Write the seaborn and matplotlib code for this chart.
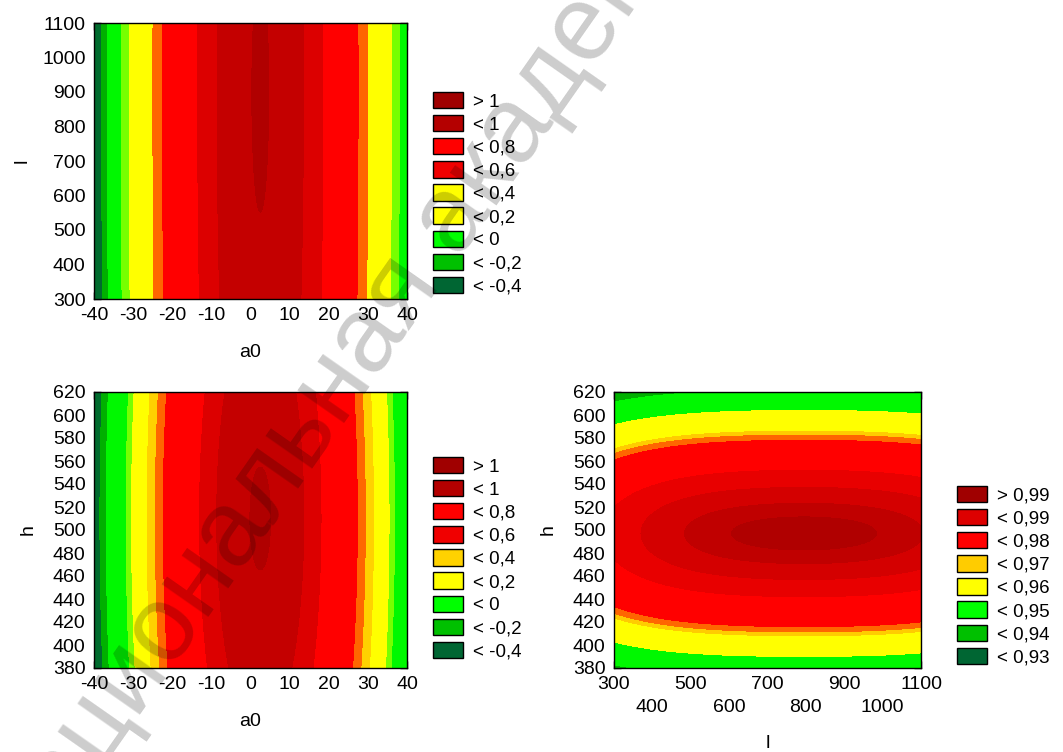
import numpy as np
import matplotlib
matplotlib.use("Agg")
import matplotlib.pyplot as plt
import seaborn as sns
from matplotlib.patches import Patch

sns.set_theme(style="white")
plt.rcParams["font.family"] = ["Liberation Sans", "DejaVu Sans"]
plt.rcParams["axes.unicode_minus"] = False

# ---------------- data ----------------
a0_range = [-40, 40]
l_range = [300, 1100]
h_range = [380, 620]

a0_ticks = [-40, -30, -20, -10, 0, 10, 20, 30, 40]
l_ticks_row1 = [300, 500, 700, 900, 1100]
l_ticks_row2 = [400, 600, 800, 1000]
h_ticks = [380, 400, 420, 440, 460, 480, 500, 520, 540, 560, 580, 600, 620]

# response surface 1: z(a0, l) = c0 + ka*(a0-a0c)^2 + kl*(l-lc)^2
surf1_center = [2.5, 900]
surf1_coef = [1.004, -8.55e-4, -3.3e-8]
# response surface 2: z(a0, h) = c0 + ka*(a0-a0c)^2 + kh*(h-hc)^2
surf2_center = [2.5, 510]
surf2_coef = [1.006, -8.55e-4, -3.0e-6]
# response surface 3: z(l, h) = c0 - a2*dl^2 - a4*dl^4 - b2*dh^2
surf3_center = [795, 497]
surf3_coef = [1.0, 2.19e-8, 9.38e-14, 4.37e-6]

# filled contour bands
fill1_levels = [-0.4, -0.3, -0.075, 0.045, 0.36, 0.47, 0.785, 0.9, 1.0]
fill1_colors = ["#006B2E", "#00B000", "#00F800", "#77FF00", "#FFFF00", "#FF6600",
                "#FF0000", "#DC0000", "#C40000", "#B00000"]
fill2_levels = [-0.43, -0.32, 0.0, 0.08, 0.29, 0.39, 0.48, 0.8, 0.9, 1.0]
fill2_colors = ["#006B2E", "#00B000", "#00F800", "#77FF00", "#FFFF00", "#FFD200",
                "#FF6600", "#FF0000", "#DC0000", "#C40000", "#B00000"]
fill3_levels = [0.925, 0.932, 0.95, 0.9654, 0.968, 0.9713, 0.9868, 0.993, 0.997, 0.9991]
fill3_colors = ["#006B2E", "#00B000", "#00F800", "#FFFF00", "#FFCC00", "#FF6600",
                "#FF0000", "#E80000", "#D40000", "#C00000", "#B00000"]

# legends
leg12_labels = ["> 1", "< 1", "< 0,8", "< 0,6", "< 0,4", "< 0,2", "< 0", "< -0,2", "< -0,4"]
leg1_colors = ["#A00000", "#B40000", "#FF0000", "#F00000", "#FFFF00", "#FFFF00",
               "#00FF00", "#00C000", "#006633"]
leg2_colors = ["#A00000", "#B40000", "#FF0000", "#F00000", "#FFD200", "#FFFF00",
               "#00FF00", "#00C000", "#006633"]
leg3_labels = ["> 0,99", "< 0,99", "< 0,98", "< 0,97", "< 0,96", "< 0,95", "< 0,94", "< 0,93"]
leg3_colors = ["#A00000", "#DD0000", "#FF0000", "#FFCC00", "#FFFF00", "#00FF00",
               "#00C000", "#006633"]

watermark = "Национальная академия наук"

# ---------------- surfaces ----------------
n = 500
a0g = np.linspace(a0_range[0], a0_range[1], n)
lg = np.linspace(l_range[0], l_range[1], n)
hg = np.linspace(h_range[0], h_range[1], n)

A1, L1 = np.meshgrid(a0g, lg)
Z1 = surf1_coef[0] + surf1_coef[1] * (A1 - surf1_center[0]) ** 2 + surf1_coef[2] * (L1 - surf1_center[1]) ** 2
A2, H2 = np.meshgrid(a0g, hg)
Z2 = surf2_coef[0] + surf2_coef[1] * (A2 - surf2_center[0]) ** 2 + surf2_coef[2] * (H2 - surf2_center[1]) ** 2
L3, H3 = np.meshgrid(lg, hg)
dl = L3 - surf3_center[0]
dh = H3 - surf3_center[1]
Z3 = surf3_coef[0] - surf3_coef[1] * dl ** 2 - surf3_coef[2] * dl ** 4 - surf3_coef[3] * dh ** 2

# ---------------- figure ----------------
W, H = 1063, 752
fig = plt.figure(figsize=(W / 100, H / 100), dpi=100, facecolor="white")


def px_axes(left, top, right, bottom):
    return fig.add_axes([left / W, 1 - bottom / H, (right - left) / W, (bottom - top) / H])


ax1 = px_axes(94, 23, 407, 299)
ax2 = px_axes(94, 392, 407, 668)
ax3 = px_axes(614, 392, 921, 668)

ax1.contourf(A1, L1, Z1, levels=fill1_levels, colors=fill1_colors, extend="both", antialiased=False)
ax2.contourf(A2, H2, Z2, levels=fill2_levels, colors=fill2_colors, extend="both", antialiased=False)
ax3.contourf(L3, H3, Z3, levels=fill3_levels, colors=fill3_colors, extend="both", antialiased=False)

tick_fs = 14
for ax in (ax1, ax2, ax3):
    ax.tick_params(which="both", direction="in", top=True, right=True, bottom=True, left=True,
                   length=5, width=1, color="black", labelsize=tick_fs, labelcolor="black", pad=6)
    for sp in ax.spines.values():
        sp.set_color("black")
        sp.set_linewidth(1.0)

ax1.set_xlim(a0_range)
ax1.set_ylim([l_range[0], l_range[1]])
ax1.set_xticks(a0_ticks)
ax1.set_yticks(sorted(l_ticks_row1 + l_ticks_row2))
ax1.set_xlabel("a0", fontsize=tick_fs, color="black", labelpad=14)
ax1.set_ylabel("l", fontsize=tick_fs, color="black", labelpad=8)

ax2.set_xlim(a0_range)
ax2.set_ylim(h_range)
ax2.set_xticks(a0_ticks)
ax2.set_yticks(h_ticks)
ax2.set_xlabel("a0", fontsize=tick_fs, color="black", labelpad=14)
ax2.set_ylabel("h", fontsize=tick_fs, color="black", labelpad=12)

ax3.set_xlim(l_range)
ax3.set_ylim(h_range)
ax3.set_xticks(l_ticks_row1)
ax3.set_xticklabels([str(v) for v in l_ticks_row1])
ax3.set_xticks(l_ticks_row2, minor=True)
ax3.set_xticklabels([str(v) for v in l_ticks_row2], minor=True)
ax3.tick_params(axis="x", which="minor", pad=22)
ax3.set_yticks(h_ticks)
ax3.set_xlabel("l", fontsize=tick_fs, color="black", labelpad=14)
ax3.set_ylabel("h", fontsize=tick_fs, color="black", labelpad=12)


def add_legend(ax, labels, colors, left, top):
    handles = [Patch(facecolor=c, edgecolor="black", linewidth=1.0) for c in colors]
    ax.legend(handles, labels, loc="upper left", bbox_to_anchor=(left / W, 1 - top / H),
              bbox_transform=fig.transFigure, frameon=False, fontsize=13.5,
              handlelength=1.6, handleheight=0.96, labelspacing=0.24, handletextpad=0.55,
              borderpad=0, borderaxespad=0, labelcolor="black")


add_legend(ax1, leg12_labels, leg1_colors, 433, 92)
add_legend(ax2, leg12_labels, leg2_colors, 433, 457)
add_legend(ax3, leg3_labels, leg3_colors, 957, 486)

# faint diagonal watermark
fig.text(0 / W, 1 - 866 / H, watermark, rotation=55, rotation_mode="anchor",
         ha="left", va="center", fontsize=77, color="black",
         alpha=0.2, zorder=10)

fig.savefig("out.png", dpi=100, facecolor="white")
